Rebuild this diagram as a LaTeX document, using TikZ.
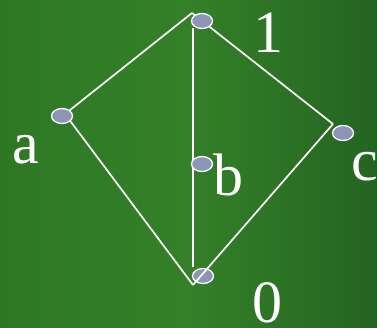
\documentclass[tikz,border=0pt]{standalone}
\usepackage{fontspec}
\setmainfont{Liberation Serif}
\usetikzlibrary{shapes.geometric}
\definecolor{bggreen}{RGB}{46,120,36}
\definecolor{bgdark}{RGB}{36,100,34}
\definecolor{bgmid}{RGB}{52,128,40}
\definecolor{dotfill}{RGB}{140,149,182}
\tikzset{
  dot/.style={ellipse, draw=white, line width=1.3pt, fill=dotfill, minimum width=21pt, minimum height=15pt, inner sep=0pt},
  edge/.style={draw=white, line width=1.7pt},
  lbl/.style={text=white, font=\fontsize{60pt}{60pt}\selectfont, anchor=base, inner sep=0pt}
}
\begin{document}
\begin{tikzpicture}[x=1pt,y=-1pt]
\useasboundingbox (0,0) rectangle (377,327);
\shade[left color=bggreen, right color=bgdark, middle color=bgmid] (0,0) rectangle (377,327);
% vertices
\coordinate (T) at (192,13);
\coordinate (A) at (65,114);
\coordinate (C) at (333,124);
\coordinate (Z) at (193,285);
\coordinate (Vt) at (193,28);
\coordinate (Vb) at (193,267);
% edges
\draw[edge] (A) -- (T);
\draw[edge] (T) -- (C);
\draw[edge] (A) -- (Z);
\draw[edge] (Vt) -- (Vb);
% nodes
\node[dot] (n1) at (202,21) {};
\node[dot] (na) at (62,116) {};
\node[dot] (nb) at (202,164) {};
\node[dot] (nc) at (343,133) {};
\node[dot] (n0) at (203,276) {};
\draw[edge] (C) -- (Z);
% labels
\node[lbl] (l1) at (268,52) {1};
\node[lbl] (la) at (26,163) {a};
\node[lbl] (lb) at (228,195) {b};
\node[lbl] (lc) at (365,180) {c};
\node[lbl] (l0) at (267,322) {0};
\end{tikzpicture}
\end{document}
